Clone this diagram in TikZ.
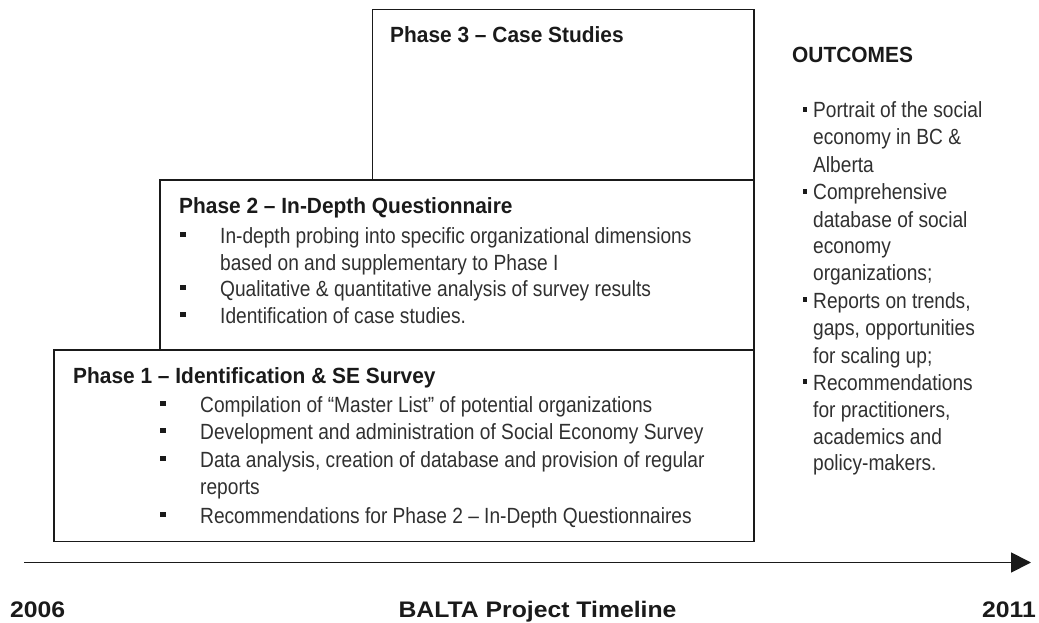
\documentclass[tikz,border=0pt]{standalone}
\usepackage{fontspec}
\setmainfont{Liberation Sans}
\newfontfamily\bodyfont{Liberation Sans}[FakeStretch=0.87]
\newfontfamily\headfont{Liberation Sans}[FakeStretch=0.95]
\newfontfamily\yearfont{Liberation Sans}[FakeStretch=1.1]
\usetikzlibrary{arrows.meta}
\definecolor{ink}{HTML}{1A1A1A}
\definecolor{bodyink}{HTML}{303030}
\begin{document}
\begin{tikzpicture}[x=1pt,y=-1pt,
  phasebox/.style={draw=ink, line width=1.8pt},
  heading/.style={anchor=base west, inner sep=0pt, font=\headfont\fontsize{22}{26}\selectfont\bfseries, text=ink},
  itemtext/.style={anchor=base west, inner sep=0pt, font=\bodyfont\fontsize{22}{26}\selectfont, text=bodyink},
  sq/.style={rectangle, fill=ink, inner sep=0pt, minimum size=5.5pt},
  sqsmall/.style={sq, minimum size=4.5pt},
  yearlabel/.style={inner sep=0pt, font=\yearfont\fontsize{22.5}{27}\selectfont\bfseries, text=ink},
  axisline/.style={draw=ink, line width=1.8pt, -{Triangle[length=20pt,width=20pt]}}]

\useasboundingbox (0,0) rectangle (1039,623);

% the three stacked phase boxes
\draw[phasebox] (372.5,9.5) rectangle (754,180);
\draw[phasebox] (160,180) rectangle (754,350);
\draw[phasebox] (54,350) rectangle (754,541.5);

% Phase 3
\node[heading] (p3title) at (390,43) {Phase 3 – Case Studies};

% Phase 2
\node[heading] (p2title) at (179,213) {Phase 2 – In-Depth Questionnaire};
\foreach \yy/\tt [count=\i] in {
  243/{In-depth probing into specific organizational dimensions},
  270/{based on and supplementary to Phase I},
  296/{Qualitative \& quantitative analysis of survey results},
  323/{Identification of case studies.}}
  \node[itemtext] (p2line\i) at (220,\yy) {\tt};
\foreach \yy [count=\i] in {243,296,323}
  \node[sq] (p2bul\i) at (183,\yy-8.5) {};

% Phase 1
\node[heading] (p1title) at (73,383) {Phase 1 – Identification \& SE Survey};
\foreach \yy/\tt [count=\i] in {
  412/{Compilation of “Master List” of potential organizations},
  439/{Development and administration of Social Economy Survey},
  467/{Data analysis, creation of database and provision of regular},
  494/{reports},
  523/{Recommendations for Phase 2 – In-Depth Questionnaires}}
  \node[itemtext] (p1line\i) at (200,\yy) {\tt};
\foreach \yy [count=\i] in {412,439,467,523}
  \node[sq] (p1bul\i) at (163,\yy-8.5) {};

% Outcomes column
\node[heading] (outtitle) at (792,63) {OUTCOMES};
\foreach \yy/\tt [count=\i] in {
  118/{Portrait of the social},
  145/{economy in BC \&},
  172/{Alberta},
  200/{Comprehensive},
  227/{database of social},
  253/{economy},
  280/{organizations;},
  308/{Reports on trends,},
  335/{gaps, opportunities},
  363/{for scaling up;},
  390/{Recommendations},
  417/{for practitioners,},
  444/{academics and},
  470/{policy-makers.}}
  \node[itemtext] (outline\i) at (813,\yy) {\tt};
\foreach \yy [count=\i] in {118,200,308,390}
  \node[sqsmall] (outbul\i) at (805,\yy-8.5) {};

% timeline
\coordinate (tstart) at (24,562.5);
\coordinate (tend) at (1031,562.5);
\draw[axisline] (tstart) -- (tend);

\node[yearlabel, anchor=base west] (ystart) at (10,617) {2006};
\node[yearlabel, anchor=base] (tlabel) at (537.5,617) {BALTA Project Timeline};
\node[yearlabel, anchor=base east] (yend) at (1036,617) {2011};
\end{tikzpicture}
\end{document}
